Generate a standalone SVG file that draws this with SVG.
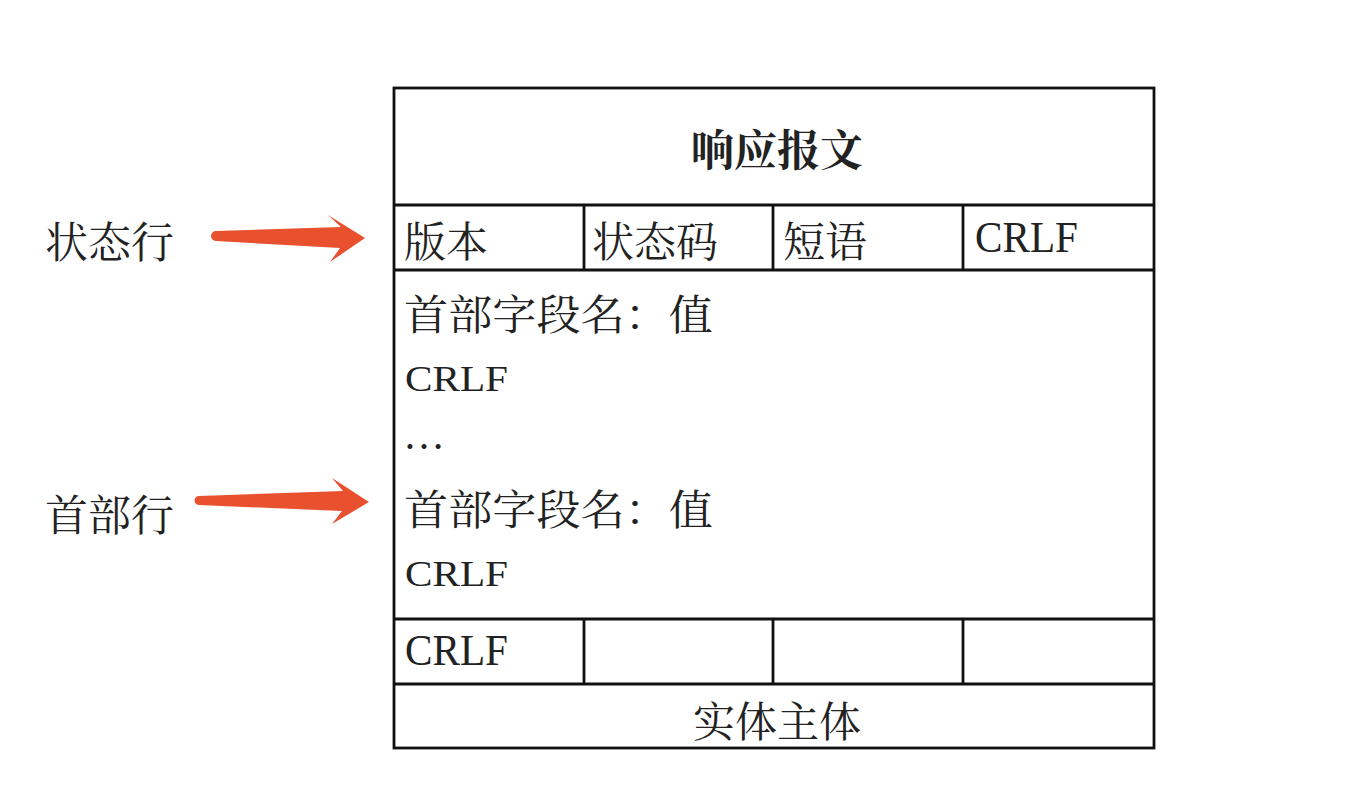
<svg xmlns="http://www.w3.org/2000/svg" width="1356" height="788" viewBox="0 0 1356 788">
<style>
.cjk{font-family:"Noto Serif CJK SC","Noto Sans CJK SC","Liberation Serif",serif;fill:#222;}
.lat{font-family:"Liberation Serif","Times New Roman",serif;fill:#222;}
.ln{stroke:#111;stroke-width:2.8;fill:none;}
.arr{fill:#e9502e;}
</style>
<rect width="1356" height="788" fill="#ffffff"/>
<g id="table">
  <rect class="ln" x="394" y="88" width="760" height="660"/>
  <line class="ln" x1="394" y1="205" x2="1154" y2="205"/>
  <line class="ln" x1="394" y1="270" x2="1154" y2="270"/>
  <line class="ln" x1="394" y1="619" x2="1154" y2="619"/>
  <line class="ln" x1="394" y1="684" x2="1154" y2="684"/>
  <line class="ln" x1="584" y1="205" x2="584" y2="270"/>
  <line class="ln" x1="773" y1="205" x2="773" y2="270"/>
  <line class="ln" x1="963" y1="205" x2="963" y2="270"/>
  <line class="ln" x1="584" y1="619" x2="584" y2="684"/>
  <line class="ln" x1="773" y1="619" x2="773" y2="684"/>
  <line class="ln" x1="963" y1="619" x2="963" y2="684"/>
</g>
<g id="title">
  <text class="cjk" x="777" y="166" font-size="43" font-weight="bold" text-anchor="middle">响应报文</text>
</g>
<g id="status-line">
  <text class="cjk" x="404" y="257" font-size="42">版本</text>
  <text class="cjk" x="592" y="257" font-size="42">状态码</text>
  <text class="cjk" x="783" y="257" font-size="42">短语</text>
  <text class="lat" x="975" y="252" font-size="44" textLength="103" lengthAdjust="spacingAndGlyphs">CRLF</text>
</g>
<g id="headers">
  <text class="cjk" x="404" y="330" font-size="42" textLength="309" lengthAdjust="spacingAndGlyphs">首部字段名：值</text>
  <text class="lat" x="405" y="391" font-size="35" textLength="103" lengthAdjust="spacingAndGlyphs">CRLF</text>
  <text class="lat" x="403" y="449" font-size="42">…</text>
  <text class="cjk" x="404" y="525" font-size="42" textLength="309" lengthAdjust="spacingAndGlyphs">首部字段名：值</text>
  <text class="lat" x="405" y="586" font-size="35" textLength="103" lengthAdjust="spacingAndGlyphs">CRLF</text>
</g>
<g id="blank-line">
  <text class="lat" x="405" y="665" font-size="44" textLength="103" lengthAdjust="spacingAndGlyphs">CRLF</text>
</g>
<g id="body">
  <text class="cjk" x="777" y="737" font-size="42" text-anchor="middle">实体主体</text>
</g>
<g id="label-status">
  <text class="cjk" x="45" y="258" font-size="43">状态行</text>
</g>
<g id="label-headers">
  <text class="cjk" x="45" y="531" font-size="43">首部行</text>
</g>
<g id="connectors">
  <path class="arr" d="M216,231 L341,227 L328,215 L365,238 L330,262 L340,248 L216,241 A5,5 0 0 1 216,231 Z"/>
  <path class="arr" d="M199,496 L343,491 L332,478 L369,502 L332,524 L342,511 L199,505 A4.5,4.5 0 0 1 199,496 Z"/>
</g>
</svg>
